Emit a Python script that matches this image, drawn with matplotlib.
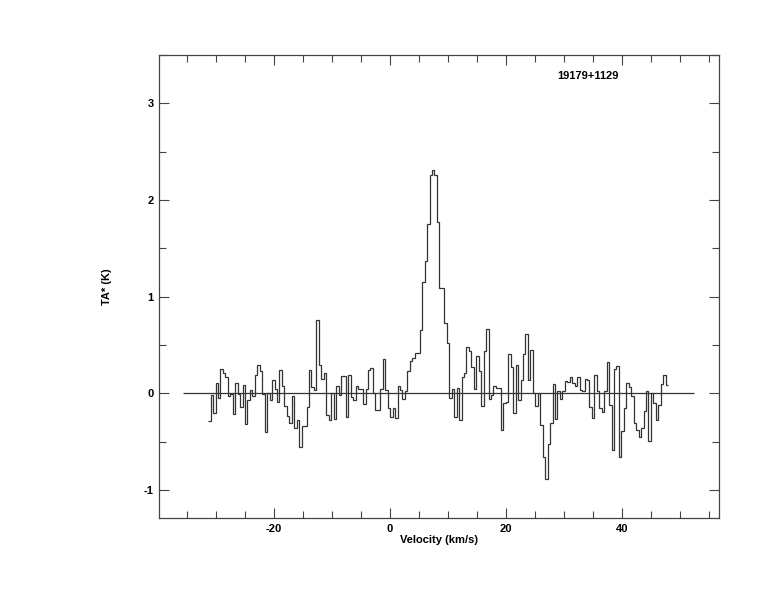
import matplotlib
matplotlib.use("Agg")
import matplotlib.pyplot as plt
import numpy as np
from matplotlib.ticker import MultipleLocator

plt.rcParams['font.family'] = ['Liberation Sans', 'DejaVu Sans']
plt.rcParams['font.weight'] = 'bold'
plt.rcParams['axes.unicode_minus'] = False

SOURCE = "19179+1129"
V_START = -31.33     # km/s, left edge of first channel
V_END = 47.93        # km/s, right edge of last channel
BASE_FROM, BASE_TO = -35.7, 52.4

# antenna temperature per channel (K) left to right
ta = [
    -0.29, -0.02, -0.20, 0.11, -0.05, 0.25, 0.21, 0.17, -0.03, -0.01,
    -0.21, 0.11, -0.01, -0.14, 0.09, -0.32, -0.07, 0.03, -0.03, 0.19,
    0.29, 0.23, -0.01, -0.40, 0.00, -0.07, 0.14, 0.04, -0.09, 0.24,
    0.08, -0.13, -0.23, -0.31, -0.03, -0.36, -0.28, -0.555, -0.34, -0.34,
    -0.145, 0.24, 0.065, 0.03, 0.755, 0.29, 0.15, 0.21, -0.22, -0.28,
    0.00, -0.27, 0.08, -0.02, 0.18, 0.175, -0.24, 0.185, -0.04, -0.07,
    0.08, 0.04, 0.04, -0.115, 0.04, 0.24, 0.26, 0.00, -0.17, -0.17,
    0.04, 0.355, 0.035, -0.155, -0.25, -0.155, -0.26, 0.08, 0.035, -0.06,
    0.02, 0.235, 0.33, 0.37, 0.42, 0.42, 0.655, 1.155, 1.37, 1.75,
    2.26, 2.31, 2.26, 1.775, 1.085, 1.085, 0.73, 0.52, -0.05,
    0.04, -0.24, 0.06, -0.28, 0.17, 0.21, 0.48, 0.44, 0.27, 0.04,
    0.385, 0.23, -0.13, 0.44, 0.67, -0.06, -0.02, 0.075, 0.06, 0.06,
    -0.38, -0.10, -0.09, 0.41, 0.275, -0.20, 0.29, -0.07, 0.14, 0.41,
    0.61, 0.14, 0.45, 0.00, -0.13, 0.00, -0.33, -0.655, -0.89, -0.525,
    -0.31, 0.10, -0.27, 0.02, -0.06, 0.02, 0.13, 0.12, 0.165, 0.11,
    0.075, 0.165, 0.03, 0.02, 0.145, 0.14, -0.14, -0.26, 0.19,
    0.02, -0.155, -0.19, 0.02, 0.32, -0.12, -0.59, 0.25, 0.28, -0.655,
    -0.385, -0.155, 0.11, 0.07, -0.03, -0.31, -0.38, -0.455, -0.36, -0.18,
    0.02, -0.49, 0.00, -0.10, -0.28, -0.12, 0.10, 0.19, 0.085,
]

edges = np.linspace(V_START, V_END, len(ta) + 1)

fig = plt.figure(figsize=(7.74, 6.12), dpi=100)
ax = fig.add_axes([0.2054, 0.1536, 0.7236, 0.7565])

ax.stairs(ta, edges, color='#333333', linewidth=0.9, baseline=None)
ax.hlines(0, BASE_FROM, BASE_TO, color='#333333', linewidth=0.9)

ax.set_xlim(-39.8, 56.7)
ax.set_ylim(-1.29, 3.5)

ax.xaxis.set_major_locator(MultipleLocator(20))
ax.xaxis.set_minor_locator(MultipleLocator(5))
ax.yaxis.set_major_locator(MultipleLocator(1))
ax.yaxis.set_minor_locator(MultipleLocator(0.5))
ax.tick_params(which='both', direction='in', color='#444444', labelsize=8,
               top=True, right=True, pad=4)
ax.tick_params(which='major', length=7.5, width=0.8)
ax.tick_params(which='minor', length=5, width=0.8)
for lab in ax.get_xticklabels() + ax.get_yticklabels():
    lab.set_fontweight('bold')

for s in ax.spines.values():
    s.set_color('#444444')
    s.set_linewidth(0.9)

ax.set_xlabel('Velocity (km/s)', fontsize=8, fontweight='bold', labelpad=1)
ax.set_ylabel('TA* (K)', fontsize=8, fontweight='bold', labelpad=23)
ax.text(0.766, 0.955, SOURCE, transform=ax.transAxes, ha='center', va='center',
        fontsize=8, fontweight='bold')

fig.savefig('out.png', dpi=100)
